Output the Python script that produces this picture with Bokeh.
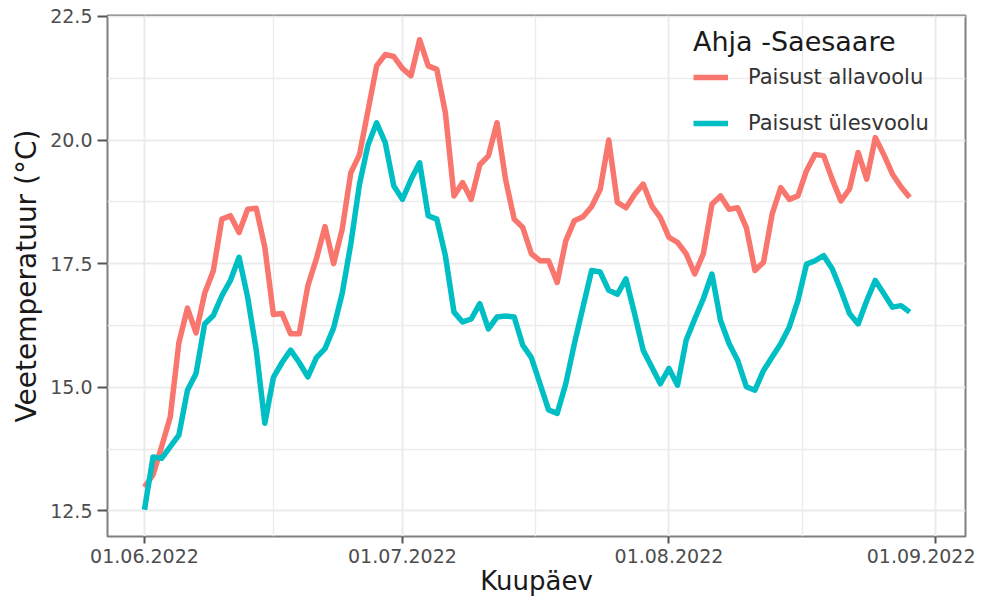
import pandas as pd
from bokeh.plotting import figure
from bokeh.models import (Range1d, FixedTicker, DatetimeTickFormatter, Legend, LegendItem,
                          ColumnDataSource, CustomJSTickFormatter)
from bokeh.embed import file_html
from bokeh.resources import INLINE

# ---- data (daily means) ----
start_date = "2022-06-01"
n_days = 90
allavoolu = [12.98, 13.23, 13.80, 14.40, 15.90, 16.60, 16.10, 16.90, 17.35, 18.40,
             18.47, 18.13, 18.60, 18.62, 17.83, 16.47, 16.49, 16.08, 16.08, 17.05,
             17.60, 18.25, 17.50, 18.20, 19.34, 19.70, 20.60, 21.50, 21.73, 21.69,
             21.45, 21.30, 22.03, 21.50, 21.43, 20.55, 18.87, 19.14, 18.80, 19.50,
             19.68, 20.35, 19.20, 18.40, 18.23, 17.70, 17.56, 17.56, 17.12, 17.96,
             18.37, 18.45, 18.65, 19.00, 20.00, 18.74, 18.63, 18.90, 19.11, 18.67,
             18.43, 18.03, 17.93, 17.70, 17.29, 17.70, 18.70, 18.87, 18.60, 18.63,
             18.23, 17.36, 17.53, 18.50, 19.04, 18.80, 18.87, 19.38, 19.71, 19.68,
             19.20, 18.77, 19.01, 19.75, 19.21, 20.05, 19.70, 19.31, 19.05, 18.84]
ylesvoolu = [12.52, 13.59, 13.56, 13.80, 14.03, 14.94, 15.28, 16.28, 16.45, 16.85,
             17.16, 17.63, 16.82, 15.75, 14.27, 15.20, 15.50, 15.75, 15.50, 15.21,
             15.60, 15.78, 16.20, 16.90, 17.90, 19.10, 19.90, 20.35, 19.95, 19.07,
             18.80, 19.20, 19.54, 18.47, 18.40, 17.66, 16.52, 16.32, 16.38, 16.69,
             16.18, 16.42, 16.44, 16.42, 15.85, 15.60, 15.07, 14.54, 14.47, 15.07,
             15.88, 16.62, 17.36, 17.33, 16.96, 16.88, 17.19, 16.49, 15.75, 15.41,
             15.07, 15.38, 15.04, 15.95, 16.38, 16.79, 17.29, 16.35, 15.88, 15.54,
             15.01, 14.94, 15.34, 15.61, 15.88, 16.22, 16.75, 17.49, 17.56, 17.66,
             17.39, 16.96, 16.49, 16.28, 16.75, 17.16, 16.89, 16.62, 16.65, 16.52]
series_names = ["Paisust allavoolu", "Paisust ülesvoolu"]
series_colors = ["#F8766D", "#00BFC4"]
legend_title = "Ahja -Saesaare"
x_tick_dates = ["2022-06-01", "2022-07-01", "2022-08-01", "2022-09-01"]
y_ticks = [12.5, 15.0, 17.5, 20.0, 22.5]
x_title = "Kuupäev"
y_title = "Veetemperatuur (°C)"

dates = pd.date_range(start_date, periods=n_days, freq="D")
src = ColumnDataSource(dict(date=dates, a=allavoolu, b=ylesvoolu))

def ms(ts):
    return pd.Timestamp(ts).value / 1e6

major_x = [ms(d) for d in x_tick_dates]
minor_x = [(major_x[i] + major_x[i + 1]) / 2 for i in range(len(major_x) - 1)]
minor_y = [(y_ticks[i] + y_ticks[i + 1]) / 2 for i in range(len(y_ticks) - 1)]

day = pd.Timedelta(days=1)
t0 = pd.Timestamp(start_date)
x_range = Range1d(start=t0 - 4.30 * day, end=t0 + 95.49 * day)
y_range = Range1d(start=11.98, end=22.52)

FONT = "DejaVu Sans"

p = figure(width=975, height=598, x_axis_type="datetime", x_range=x_range, y_range=y_range,
           output_backend="svg", toolbar_location=None,
           min_border_left=107, min_border_right=10, min_border_top=15, min_border_bottom=61)
p.background_fill_color = "white"
p.border_fill_color = "white"
p.outline_line_color = "#7f7f7f"
p.outline_line_width = 2

r1 = p.line("date", "a", source=src, line_color=series_colors[0], line_width=5.5, line_join="round")
r2 = p.line("date", "b", source=src, line_color=series_colors[1], line_width=5.5, line_join="round")

xa = p.xaxis[0]
xa.ticker = FixedTicker(ticks=major_x, minor_ticks=minor_x)
xa.formatter = DatetimeTickFormatter(days="%d.%m.%Y", months="%d.%m.%Y", years="%d.%m.%Y",
                                     hours="%d.%m.%Y", minutes="%d.%m.%Y")
ya = p.yaxis[0]
ya.ticker = FixedTicker(ticks=y_ticks, minor_ticks=minor_y)
ya.formatter = CustomJSTickFormatter(code="return tick.toFixed(1);")

for ax in (xa, ya):
    ax.axis_line_color = None
    ax.major_tick_line_color = "#555555"
    ax.major_tick_line_width = 2
    ax.major_tick_in = 0
    ax.minor_tick_line_color = None
    ax.major_label_text_font = FONT
    ax.major_label_text_font_size = "19px"
    ax.major_label_text_color = "#4d4d4d"
    ax.axis_label_text_font = FONT
    ax.axis_label_text_font_style = "normal"
    ax.axis_label_text_color = "#1a1a1a"

xa.major_tick_out = 7
xa.major_label_standoff = 5
xa.axis_label = x_title
xa.axis_label_text_font_size = "26px"
xa.axis_label_standoff = 0
ya.major_tick_out = 10
ya.major_label_standoff = 5
ya.axis_label = y_title
ya.axis_label_text_font_size = "28px"
ya.axis_label_standoff = 4

for g in (p.xgrid[0], p.ygrid[0]):
    g.grid_line_color = "#ebebeb"
    g.grid_line_width = 2
    g.minor_grid_line_color = "#ebebeb"
    g.minor_grid_line_width = 1.3
p.xgrid[0].ticker = xa.ticker
p.ygrid[0].ticker = ya.ticker

legend = Legend(items=[LegendItem(label=series_names[0], renderers=[r1]),
                       LegendItem(label=series_names[1], renderers=[r2])],
                location=(586, 398), title=legend_title,
                title_text_font=FONT, title_text_font_size="27px", title_text_font_style="normal",
                title_text_color="#1a1a1a", title_standoff=5,
                label_text_font=FONT, label_text_font_size="21px", label_text_color="#333333",
                glyph_width=35, glyph_height=30, label_standoff=20, spacing=16,
                padding=0, margin=0, border_line_color=None, background_fill_alpha=0)
p.add_layout(legend)

open("out.html", "w").write(file_html(p, INLINE))
